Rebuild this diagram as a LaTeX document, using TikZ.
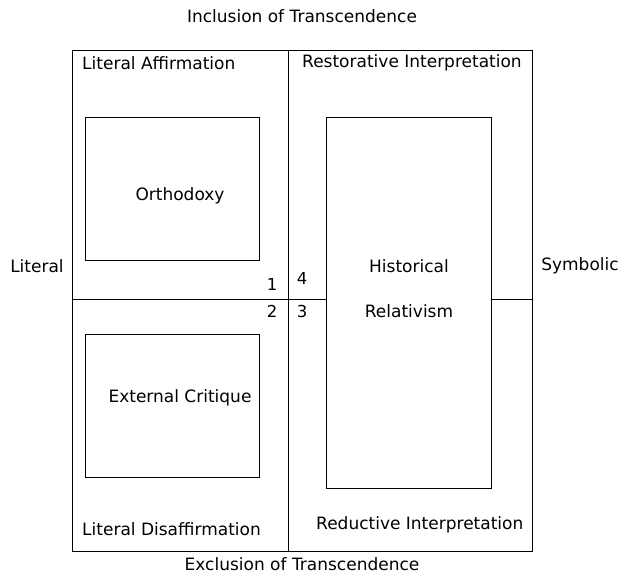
\documentclass[tikz,border=0pt]{standalone}
\usepackage{fontspec}
\setmainfont{DejaVu Sans}
\usetikzlibrary{positioning}

\tikzset{
	box/.style = {draw, line width = 0.9pt, inner sep = 0pt},
	lbl/.style = {font = \fontsize{17}{20}\selectfont, inner sep = 0pt},
	num/.style = {font = \fontsize{16.5}{19}\selectfont, inner sep = 0pt}
}

\begin{document}
\begin{tikzpicture}[x = 1pt, y = -1pt]
		\useasboundingbox (0, 0) rectangle (624, 576);

		\node[box, minimum width = 460pt, minimum height = 501pt] (frame) at (302, 300.5) {};
		\node[box, minimum width = 174pt, minimum height = 143pt] (orth) at (172, 188.5) {};
		\node[box, minimum width = 174pt, minimum height = 143pt] (ext) at (172, 405.5) {};
		\node[box, minimum width = 165pt, minimum height = 371pt] (hist) at (408.5, 302.5) {};

		\coordinate (top) at (288, 50);
		\coordinate (bot) at (288, 551);
		\coordinate (left) at (72, 299);
		\coordinate (right) at (532, 299);

		\path[draw, line width = 0.9pt] (top) -- (bot);
		\path[draw, line width = 0.9pt] (left) -- (left -| hist.west);
		\path[draw, line width = 0.9pt] (left -| hist.east) -- (right);

		\node[lbl] (incl) at (302, 16) {Inclusion of Transcendence};
		\node[lbl] (excl) at (302, 564) {Exclusion of Transcendence};
		\node[lbl] (lit) at (37, 266) {Literal};
		\node[lbl] (sym) at (580, 266) {Symbolic};
		\node[lbl, anchor = west] (aff) at (82, 63) {Literal Affirmation};
		\node[lbl, anchor = west] (rest) at (302, 63) {Restorative Interpretation};
		\node[lbl, anchor = west] (dis) at (82, 529) {Literal Disaffirmation};
		\node[lbl, anchor = west] (red) at (316, 525) {Reductive Interpretation};

		\node[lbl] (orthtxt) at (180, 196) {Orthodoxy};
		\node[lbl] (exttxt) at (180, 398) {External Critique};
		\node[lbl] (histA) at (409, 266) {Historical};
		\node[lbl] (histB) at (409, 311) {Relativism};

		\node[num] (n1) at (272, 284) {1};
		\node[num] (n2) at (272, 311) {2};
		\node[num] (n3) at (302, 311) {3};
		\node[num] (n4) at (302, 278) {4};
\end{tikzpicture}
\end{document}
